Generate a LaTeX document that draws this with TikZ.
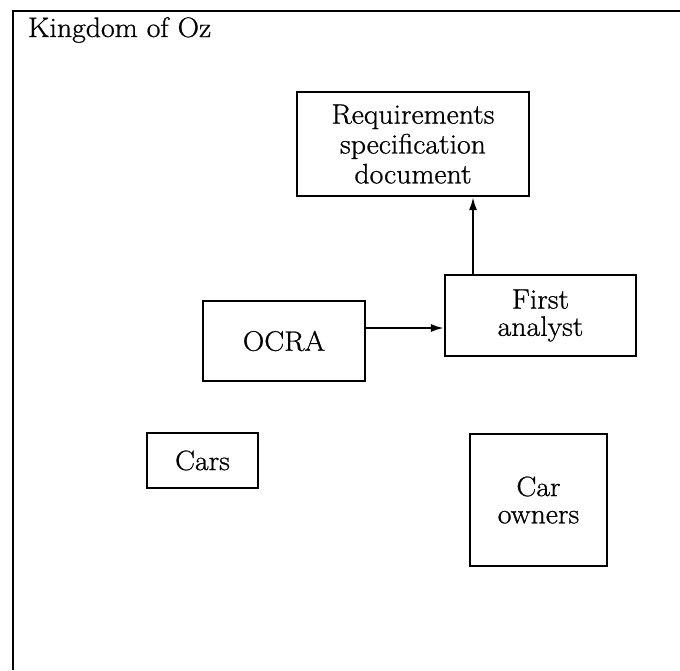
\documentclass[tikz,border=0pt]{standalone}
\usepackage{amsmath}
\usepackage{fontspec}
\setmainfont{Latin Modern Roman}[FakeStretch=1.06, FakeBold=0.8]
\usepackage{tikz}
\usetikzlibrary{shapes,arrows,arrows.meta,calc,positioning}
\tikzset{ozbox/.style={draw, rectangle, line width=1.2pt, inner sep=2pt, align=center,
  font=\fontsize{16}{15.5}\selectfont}}
\tikzstyle{oztext}=[inner sep=0pt, anchor=west, font=\fontsize{16}{15.5}\selectfont]

\begin{document}
\begin{tikzpicture}[>={Latex[length=0.26cm,width=0.16cm]}, x=0.02cm, y=-0.02cm, line width=1.2pt]
\useasboundingbox (0,0) rectangle (680,670);
\draw (13,670) -- (13,11) -- (680,11);
\node[oztext] (kingdom) at (27,30) {Kingdom of Oz};
\node[ozbox, font=\fontsize{16}{17}\selectfont, minimum width=4.64cm, minimum height=2.08cm] (req) at (413,144) {Requirements\\specification\\document};
\node[ozbox, minimum width=3.82cm, minimum height=1.62cm] (analyst) at (540.5,315.5) {First\\analyst};
\node[ozbox, minimum width=3.24cm, minimum height=1.6cm] (ocra) at (284,341) {OCRA};
\node[ozbox, minimum width=2.22cm, minimum height=1.1cm] (cars) at (202.5,460.5) {Cars};
\node[ozbox, minimum width=2.74cm, minimum height=2.64cm] (owners) at (538.5,500) {Car\\owners};

\path[->] (ocra.east |- 0,328) edge (analyst.west |- 0,328)
(analyst.north -| 473,0) edge (req.south -| 473,0);
\end{tikzpicture}
\end{document}
